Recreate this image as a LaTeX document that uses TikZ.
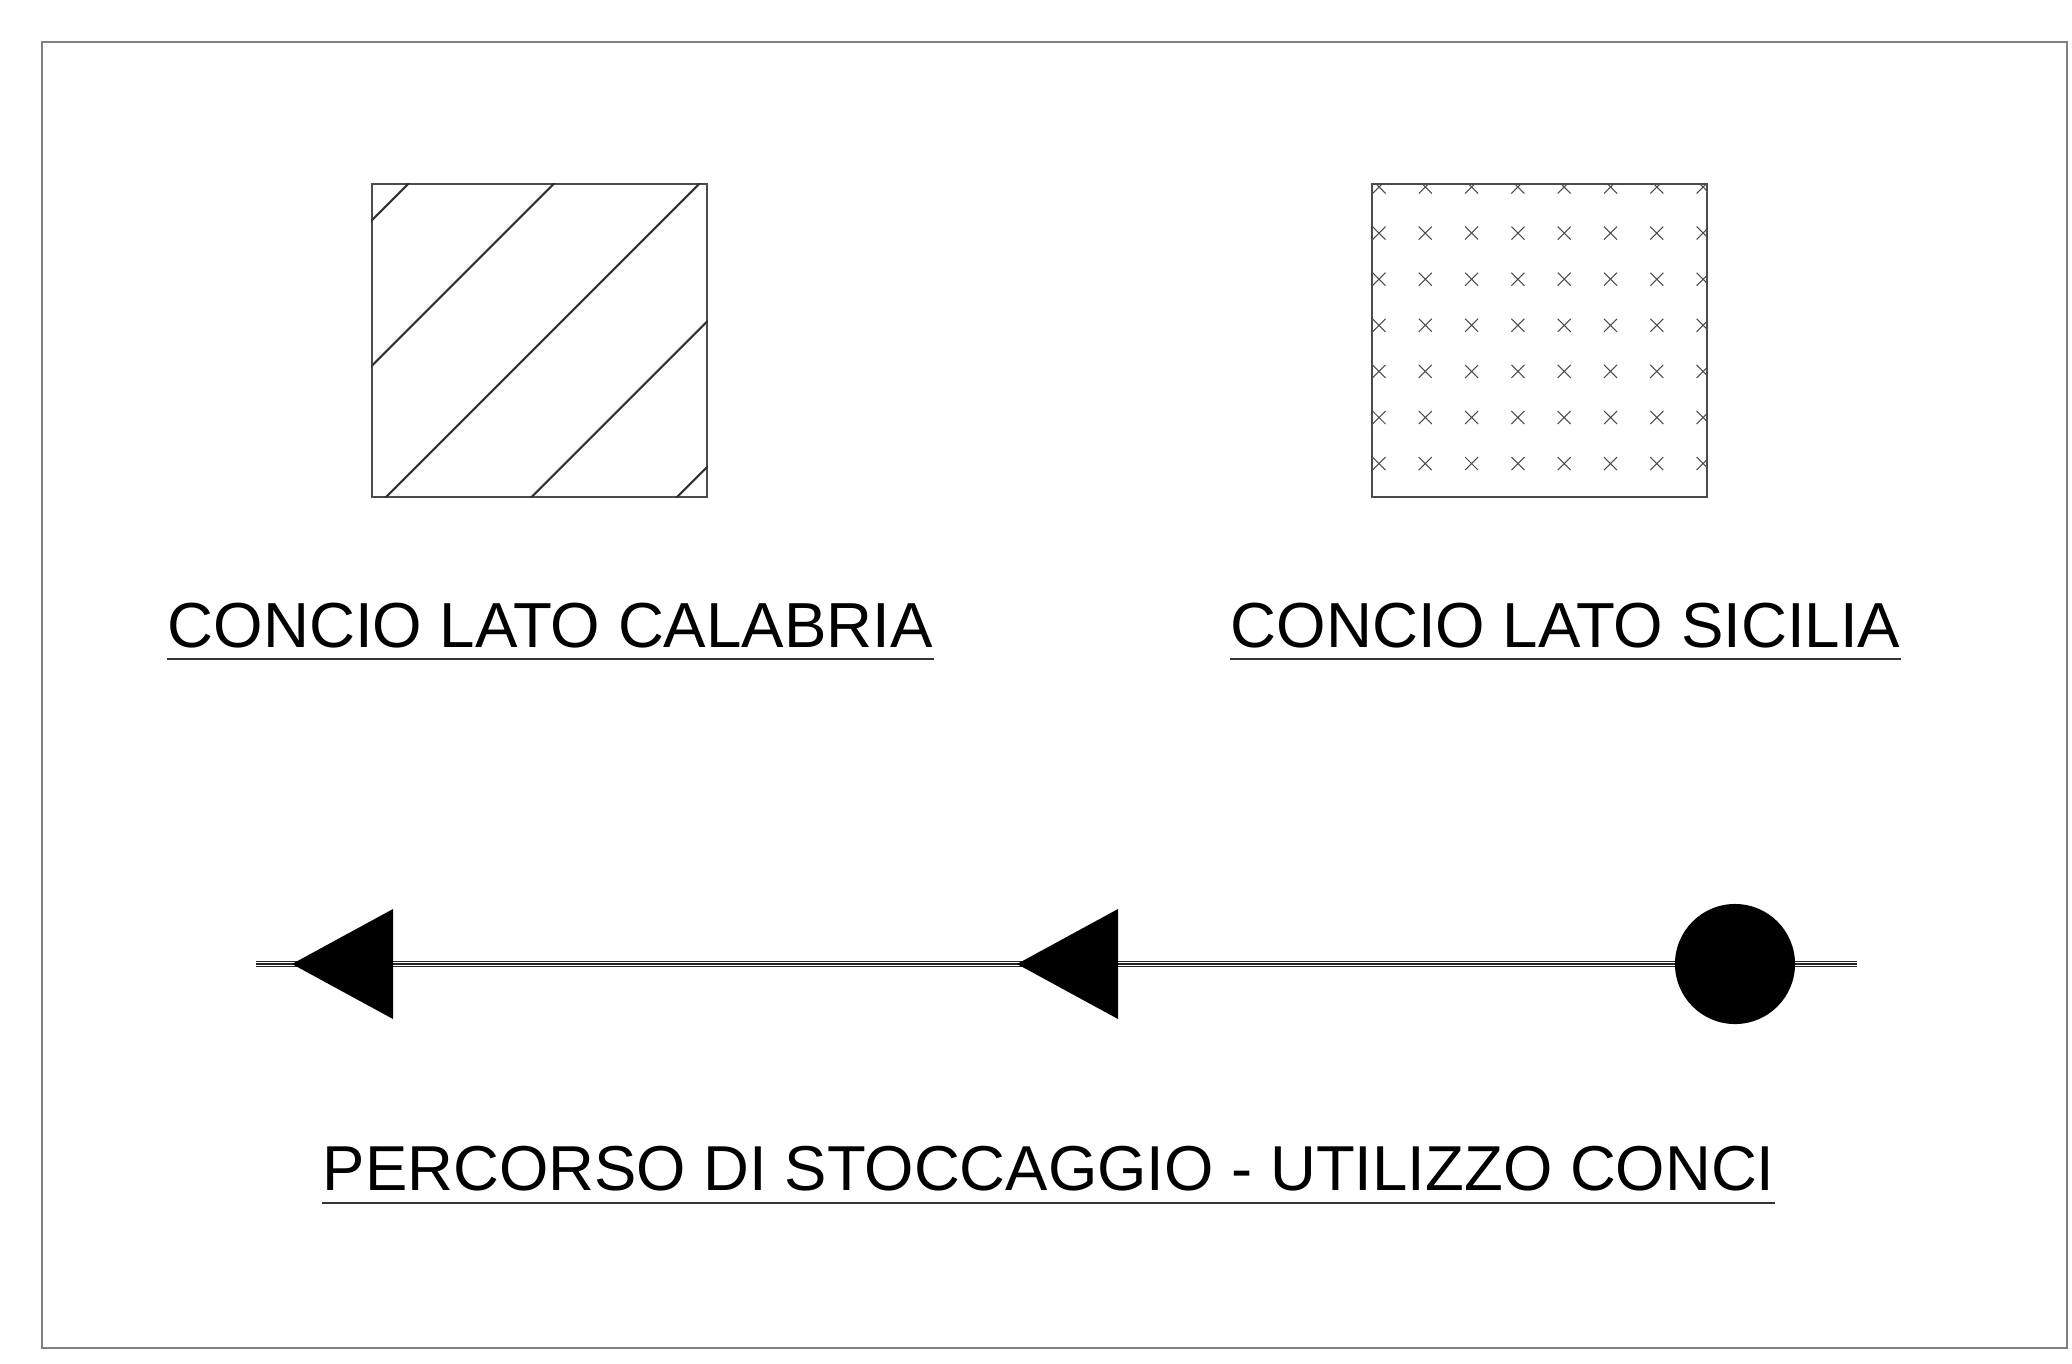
\documentclass[tikz,border=0pt]{standalone}
\usepackage{fontspec}
\setmainfont{Liberation Sans}
\usepackage{tikz}
\usetikzlibrary{positioning, calc}
\tikzset{
        frame/.style={draw=black!50, line width=0.6pt},
        conciobox/.style={rectangle, draw=black!70, line width=0.5pt, inner sep=0pt},
        hatchline/.style={draw=black!80, line width=0.6pt},
        crossmark/.style={draw=black!70, line width=0.3pt},
        legendlabel/.style={font=\fontsize{18.1}{22}\selectfont, inner sep=0pt, anchor=base west},
        underline/.style={draw=black!80, line width=0.4pt},
        railline/.style={draw=black!85, line width=0.35pt, double=white, double distance=1.1pt},
        railmid/.style={draw=black!85, line width=0.35pt},
        pathtip/.style={fill=black},
        startdot/.style={circle, fill=black, inner sep=0pt, minimum size=1.20cm},
    }
\begin{document}
\begin{tikzpicture}[x=0.01cm, y=-0.01cm]
        \useasboundingbox (0,0) rectangle (2072,1363);
        % Sheet frame
        \draw[frame] (42,42) rectangle (2067,1348);

        % Concio lato Calabria
        \node[conciobox, minimum width=3.35cm, minimum height=3.13cm] (calabria) at (539.5,340.5) {};
        \begin{scope}
            \clip (calabria.south west) rectangle (calabria.north east);
            \foreach \k in {592,737.5,883,1028.5,1174}
                \draw[hatchline] (\k-600,600) -- (\k-100,100);
        \end{scope}

        % Concio lato Sicilia
        \node[conciobox, minimum width=3.35cm, minimum height=3.13cm] (sicilia) at (1539.5,340.5) {};
        \begin{scope}
            \clip (sicilia.south west) rectangle (sicilia.north east);
            \foreach \i in {0,...,7}
                \foreach \j in {0,...,6}
                    \draw[crossmark] (1379+46.3*\i-6.5,187+46.1*\j-6.5) -- ++(13,13)
                        (1379+46.3*\i+6.5,187+46.1*\j-6.5) -- ++(-13,13);
        \end{scope}

        % Labels
        \node[legendlabel] (calabriaLbl) at (167,647) {CONCIO LATO CALABRIA};
        \draw[underline] ([yshift=-0.12cm]calabriaLbl.base west) -- ([yshift=-0.12cm]calabriaLbl.base east);
        \node[legendlabel] (siciliaLbl) at (1230,647) {CONCIO LATO SICILIA};
        \draw[underline] ([yshift=-0.12cm]siciliaLbl.base west) -- ([yshift=-0.12cm]siciliaLbl.base east);

        % Route
        \coordinate (routeW) at (256,964);
        \coordinate (routeE) at (1857,964);
        \draw[railline] (routeW) -- (routeE);
        \draw[railmid] (routeW) -- (routeE);
        \coordinate (tipA) at (292,964);
        \coordinate (tipB) at (1017,964);
        \foreach \t in {tipA,tipB}
            \fill[pathtip] (\t) -- ++(101,-55) -- ++(0,110) -- cycle;
        \node[startdot] (start) at (1735,964) {};

        \node[legendlabel, font=\fontsize{18.05}{22}\selectfont] (routeLbl) at (322,1190) {PERCORSO DI STOCCAGGIO - UTILIZZO CONCI};
        \draw[underline] ([yshift=-0.13cm]routeLbl.base west) -- ([yshift=-0.13cm]routeLbl.base east);
    \end{tikzpicture}
\end{document}
